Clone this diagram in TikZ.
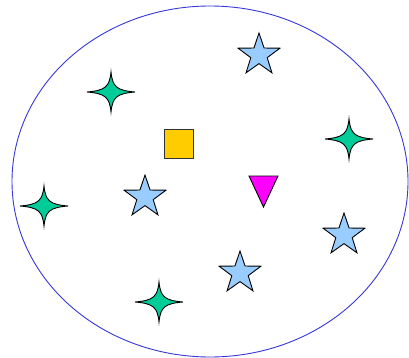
\documentclass[tikz,border=0pt]{standalone}
\usetikzlibrary{shapes.geometric,calc}
\definecolor{RingBlue}{RGB}{55,55,215}
\definecolor{StarBlue}{RGB}{153,204,255}
\definecolor{SparkGreen}{RGB}{0,204,153}
\definecolor{BoxYellow}{RGB}{255,204,0}
\definecolor{TriMagenta}{RGB}{255,0,255}
\tikzset{
  ring/.style={draw=RingBlue,line width=0.9pt},
  bluestar/.style={star,star points=5,star point ratio=2.55,minimum size=44pt,
    inner sep=0pt,draw=black,fill=StarBlue,line width=0.9pt},
  box/.style={rectangle,minimum size=29pt,inner sep=0pt,draw=black!80,
    fill=BoxYellow,line width=0.9pt},
  tri/.style={draw=black,fill=TriMagenta,line width=0.9pt,line join=miter},
  spark/.style={draw=black,fill=SparkGreen,line width=0.9pt},
  sparkle/.pic={
    \path[spark] (-24,0) .. controls (-6,-1.5) and (-1.5,-5) .. (0,-20)
      .. controls (1.5,-5) and (6,-1.5) .. (24,0)
      .. controls (6,1.5) and (1.5,5) .. (0,20)
      .. controls (-1.5,5) and (-6,1.5) .. (-24,0) -- cycle;
  },
}
\begin{document}
\begin{tikzpicture}[x=1pt,y=-1pt]
\useasboundingbox (0,0) rectangle (409,358);
\coordinate (mid) at (210,181.5);
\draw[ring] (mid) ellipse [x radius=198,y radius=175.5];
% blue stars
\node[bluestar] (s1) at (259,55) {};
\node[bluestar] (s2) at (145,197) {};
\node[bluestar] (s3) at (344,235) {};
\node[bluestar] (s4) at (240,273) {};
% green sparkles
\coordinate (g1) at (111,92);
\coordinate (g2) at (349,139);
\coordinate (g3) at (44,206);
\coordinate (g4) at (159,302);
\foreach \g in {g1,g2,g3,g4}
  \pic at (\g) {sparkle};
% square and triangle
\node[box] (sq) at (178.5,144) {};
\coordinate (tr) at (263.5,190);
\draw[tri] ($(tr)+(-14.5,-14)$) -- ++(29,0) -- ($(tr)+(0,17)$) -- cycle;
\end{tikzpicture}
\end{document}
